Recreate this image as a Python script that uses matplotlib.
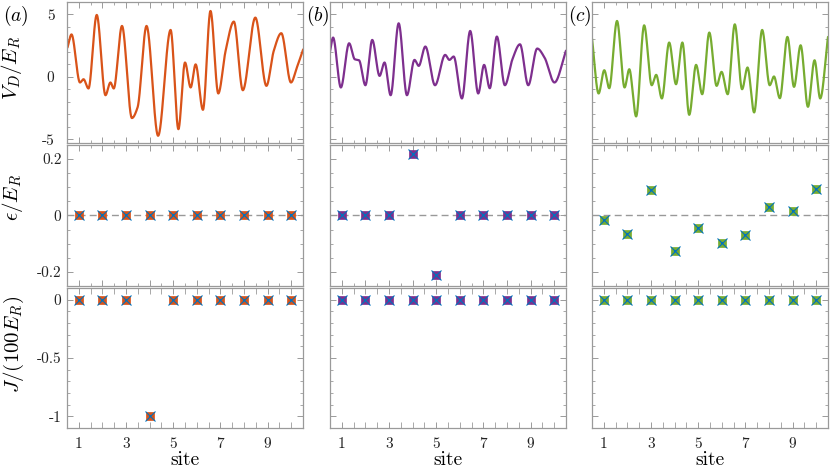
import numpy as np
import matplotlib
matplotlib.use("Agg")
import matplotlib.pyplot as plt
from matplotlib.ticker import FixedLocator, MultipleLocator, NullFormatter, FixedFormatter

plt.rcParams['mathtext.fontset'] = 'cm'
plt.rcParams['font.family'] = ['cmr10', 'DejaVu Serif']
plt.rcParams['axes.unicode_minus'] = False
plt.rcParams['axes.formatter.use_mathtext'] = False

# ---------------- data ----------------
sites = [1, 2, 3, 4, 5, 6, 7, 8, 9, 10]

# disorder potential V_D/E_R : key points (extrema / shoulders) of each curve
va_x = [0.52, 0.69, 1.05, 1.20, 1.41, 1.76, 2.13, 2.34, 2.48, 2.83, 3.25, 3.49, 3.87, 4.36,
        4.89, 5.22, 5.50, 5.74, 5.95, 6.26, 6.58, 6.91, 7.22, 7.57, 7.95, 8.48, 8.95, 9.26,
        9.58, 9.99, 10.24, 10.52]
va_y = [2.35, 3.40, -0.45, -0.19, -0.93, 4.96, -1.47, -0.45, -0.93, 4.08, -3.30, -2.45, 4.08,
        -4.72, 3.76, -4.19, 1.15, -0.85, 1.00, -2.64, 5.28, -1.33, 2.08, 4.43, -1.07, 4.75,
        -0.72, 2.08, 3.50, -0.45, 0.75, 2.27]

vb_x = [0.50, 0.63, 0.96, 1.31, 1.55, 1.73, 2.00, 2.29, 2.60, 2.81, 3.07, 3.41, 3.76, 4.08,
        4.26, 4.54, 4.95, 5.38, 5.56, 5.74, 6.09, 6.44, 6.78, 7.03, 7.27, 7.57, 7.91, 8.23,
        8.55, 8.90, 9.28, 9.59, 10.01, 10.50]
vb_y = [2.03, 3.15, -0.85, 2.69, 1.41, 1.33, -0.67, 2.96, 0.08, 1.15, -1.47, 4.29, -1.47,
        1.36, 0.88, 2.43, -0.67, 1.76, 1.36, 1.63, -1.73, 3.68, -1.33, 0.96, -0.91, 3.23,
        -0.67, 1.41, 2.61, -0.67, 2.27, 1.55, -0.45, 2.10]

vc_x = [0.50, 0.78, 1.02, 1.23, 1.56, 1.88, 2.08, 2.37, 2.71, 3.03, 3.22, 3.46, 3.77, 4.06,
        4.33, 4.62, 4.91, 5.17, 5.47, 5.78, 5.99, 6.25, 6.55, 6.86, 7.09, 7.37, 7.71, 8.03,
        8.21, 8.46, 8.78, 9.06, 9.34, 9.65, 9.93, 10.17, 10.50]
vc_y = [3.07, -1.33, 0.53, -0.91, 4.48, -0.85, 0.61, -3.17, 4.13, -0.67, 0.16, -1.73, 2.75,
        -0.59, 2.75, -3.04, 0.96, -1.39, 3.55, -0.72, 0.40, -1.39, 4.21, -0.99, 0.75, -2.85,
        3.76, -0.67, 0.03, -1.71, 3.20, -0.80, 2.53, -2.40, 1.33, -1.73, 3.20]

# on-site energies eps/E_R
eps_a = [0, 0, 0, 0, 0, 0, 0, 0, 0, 0]
eps_b = [0, 0, 0, 0.217, -0.211, 0, 0, 0, 0, 0]
eps_c = [-0.017, -0.066, 0.092, -0.125, -0.046, -0.099, -0.070, 0.030, 0.015, 0.094]

# tunnelling J/(100 E_R)
J_a = [0, 0, 0, -1, 0, 0, 0, 0, 0, 0]
J_b = [0, 0, 0, 0, 0, 0, 0, 0, 0, 0]
J_c = [0, 0, 0, 0, 0, 0, 0, 0, 0, 0]

colors = ['#D95319', '#7E2F8E', '#77AC30']
blue = '#0072BD'
panel_labels = ['$(a)$', '$(b)$', '$(c)$']
xtick_labels = ['1', '3', '5', '7', '9']


def smooth_curve(x, y, n=1500):
    """Monotone cubic (PCHIP) drawing of the line through the read points."""
    x = np.asarray(x, float)
    y = np.asarray(y, float)
    h = np.diff(x)
    d = np.diff(y) / h
    m = np.zeros_like(y)
    for k in range(1, len(x) - 1):
        if d[k - 1] * d[k] > 0:
            w1 = 2 * h[k] + h[k - 1]
            w2 = h[k] + 2 * h[k - 1]
            m[k] = (w1 + w2) / (w1 / d[k - 1] + w2 / d[k])
    m[0] = d[0]
    m[-1] = d[-1]
    xs = np.linspace(x[0], x[-1], n)
    idx = np.clip(np.searchsorted(x, xs) - 1, 0, len(x) - 2)
    t = (xs - x[idx]) / h[idx]
    h00 = 2 * t**3 - 3 * t**2 + 1
    h10 = t**3 - 2 * t**2 + t
    h01 = -2 * t**3 + 3 * t**2
    h11 = t**3 - t**2
    ys = h00 * y[idx] + h10 * h[idx] * m[idx] + h01 * y[idx + 1] + h11 * h[idx] * m[idx + 1]
    return xs, ys


W, H = 830, 469
fig = plt.figure(figsize=(W / 100, H / 100), dpi=100)

col_left = [67, 330, 592]
col_w = 236
rows = [(2, 143), (145, 286), (288, 428)]

spine_col = '#9a9a9a'
curves = [(va_x, va_y), (vb_x, vb_y), (vc_x, vc_y)]
eps = [eps_a, eps_b, eps_c]
Js = [J_a, J_b, J_c]


def style(ax, show_ylabels):
    for s in ax.spines.values():
        s.set_color(spine_col)
        s.set_linewidth(0.9)
    ax.set_xlim(0.5, 10.5)
    ax.xaxis.set_major_locator(FixedLocator(sites))
    ax.xaxis.set_minor_locator(MultipleLocator(0.5))
    ax.tick_params(which='both', direction='in', top=True, right=True,
                   color=spine_col, labelsize=11, labelcolor='#222222')
    ax.tick_params(which='major', length=4, width=0.7)
    ax.tick_params(which='minor', length=2, width=0.6)
    ax.tick_params(axis='y', which='major', pad=4)
    ax.xaxis.set_major_formatter(NullFormatter())
    if not show_ylabels:
        ax.yaxis.set_major_formatter(NullFormatter())


def markers(ax, x, y, c):
    ax.plot(x, y, ls='none', marker='s', ms=5.6, mfc=c, mec=c, mew=0.5, zorder=3)
    ax.plot(x, y, ls='none', marker='x', ms=7.2, mec=blue, mew=0.8, zorder=4)
    ax.plot(x, y, ls='none', marker='s', ms=2.0, mfc=blue, mec=blue, mew=0, zorder=5)


for j in range(3):
    x0 = col_left[j] / W
    w = col_w / W
    axs = []
    for r, (t, b) in enumerate(rows):
        ax = fig.add_axes([x0, 1 - b / H, w, (b - t) / H])
        style(ax, j == 0)
        axs.append(ax)

    # top row: potential
    ax = axs[0]
    xs, ys = smooth_curve(*curves[j])
    ax.plot(xs, ys, color=colors[j], lw=1.6, solid_capstyle='round')
    ax.set_ylim(-5.3, 6.0)
    ax.yaxis.set_major_locator(FixedLocator([-5, 0, 5]))
    ax.yaxis.set_minor_locator(MultipleLocator(1))
    if j == 0:
        ax.tick_params(axis='y', which='major', pad=9)
    fig.text(col_left[j] / W - (64 if j == 0 else 24) / W, 1 - 16 / H, panel_labels[j],
             fontsize=14, ha='left', va='center')

    # middle row: epsilon
    ax = axs[1]
    ax.axhline(0, color='#999999', lw=1.0, ls=(0, (5, 3)), zorder=1)
    markers(ax, sites, eps[j], colors[j])
    ax.set_ylim(-0.25, 0.25)
    ax.yaxis.set_major_locator(FixedLocator([-0.2, 0, 0.2]))
    ax.yaxis.set_minor_locator(MultipleLocator(0.05))
    if j == 0:
        ax.yaxis.set_major_formatter(FixedFormatter(['-0.2', '0', '0.2']))

    # bottom row: J
    ax = axs[2]
    markers(ax, sites, Js[j], colors[j])
    ax.set_ylim(-1.1, 0.1)
    ax.yaxis.set_major_locator(FixedLocator([-1, -0.5, 0]))
    ax.yaxis.set_minor_locator(MultipleLocator(0.1))
    if j == 0:
        ax.yaxis.set_major_formatter(FixedFormatter(['-1', '-0.5', '0']))
    ax.xaxis.set_major_locator(FixedLocator([1, 3, 5, 7, 9]))
    ax.xaxis.set_minor_locator(FixedLocator([0.5, 1.5, 2, 2.5, 3.5, 4, 4.5, 5.5, 6, 6.5,
                                             7.5, 8, 8.5, 9.5, 10, 10.5]))
    ax.xaxis.set_major_formatter(FixedFormatter(xtick_labels))
    ax.tick_params(axis='x', which='major', pad=7)
    ax.tick_params(axis='x', which='minor', length=4)
    ax.set_xlabel('site', fontsize=14, labelpad=0)

    if j == 0:
        axs[0].set_ylabel('$V_D/E_R$', fontsize=15)
        axs[0].yaxis.set_label_coords(-(67 - 24) / col_w, 0.53)
        axs[1].set_ylabel(r'$\epsilon/E_R$', fontsize=15)
        axs[1].yaxis.set_label_coords(-(67 - 25) / col_w, 0.63)
        axs[2].set_ylabel('$J/(100E_R)$', fontsize=15)
        axs[2].yaxis.set_label_coords(-(67 - 26) / col_w, 0.60)

fig.savefig('out.png', dpi=100)
